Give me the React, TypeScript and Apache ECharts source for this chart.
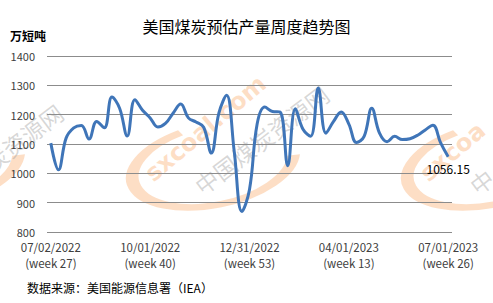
import React, { useEffect, useRef } from "react";
import * as echarts from "echarts";

const weekDates: string[] = [
  "07/02/2022", "07/09/2022", "07/16/2022", "07/23/2022", "07/30/2022", "08/06/2022", "08/13/2022",
  "08/20/2022", "08/27/2022", "09/03/2022", "09/10/2022", "09/17/2022", "09/24/2022", "10/01/2022",
  "10/08/2022", "10/15/2022", "10/22/2022", "10/29/2022", "11/05/2022", "11/12/2022", "11/19/2022",
  "11/26/2022", "12/03/2022", "12/10/2022", "12/17/2022", "12/24/2022", "12/31/2022", "01/07/2023",
  "01/14/2023", "01/21/2023", "01/28/2023", "02/04/2023", "02/11/2023", "02/18/2023", "02/25/2023",
  "03/04/2023", "03/11/2023", "03/18/2023", "03/25/2023", "04/01/2023", "04/08/2023", "04/15/2023",
  "04/22/2023", "04/29/2023", "05/06/2023", "05/13/2023", "05/20/2023", "05/27/2023", "06/03/2023",
  "06/10/2023", "06/17/2023", "06/24/2023", "07/01/2023",
];
const weekNumbers: number[] = [
  27, 28, 29, 30, 31, 32, 33, 34, 35, 36, 37, 38, 39, 40, 41, 42, 43, 44, 45, 46, 47, 48, 49, 50, 51, 52, 53,
  1, 2, 3, 4, 5, 6, 7, 8, 9, 10, 11, 12, 13, 14, 15, 16, 17, 18, 19, 20, 21, 22, 23, 24, 25, 26,
];
const production: number[] = [
  1103, 1012, 1120, 1155, 1163, 1117, 1177, 1155, 1260, 1222,
  1127, 1251, 1215, 1189, 1158, 1170, 1205, 1236, 1189, 1175,
  1157, 1069, 1206, 1266, 1075, 870, 945, 1168, 1226, 1211,
  1209, 1026, 1220, 1150, 1126, 1291, 1137, 1177, 1209, 1168,
  1105, 1126, 1222, 1138, 1108, 1126, 1115, 1118, 1130, 1148,
  1164, 1105, 1056.15,
];
const shownTickIndexes: number[] = [0, 13, 26, 39, 52];
const yTicks = { min: 800, max: 1400, interval: 100 };

const categories = weekDates.map((d, i) => `${d}\n(week ${weekNumbers[i]})`);

const orange = "rgba(252,190,140,0.5)";
const gray = "rgba(150,150,150,0.38)";

function watermark(cx: number, cy: number, brand: string | null, name: string | null, nameDx: number) {
  const children: any[] = [
    {
      type: "arc",
      shape: { cx: 0, cy: 0, r: 40, startAngle: Math.PI * 0.05, endAngle: Math.PI * 1.4 },
      scaleX: 2.05,
      style: { stroke: orange, lineWidth: 9, fill: "none", strokeNoScale: true },
    },
  ];
  if (brand) {
    children.push({
      type: "text",
      x: -60, y: 9, rotation: 0.5,
      style: { text: brand, fill: orange, font: "bold 24px 'DejaVu Sans', sans-serif", verticalAlign: "bottom" },
    });
  }
  if (name) {
    children.push({
      type: "text",
      x: -15 + nameDx, y: 30, rotation: 0.45,
      style: { text: name, fill: gray, font: "23px 'Noto Sans CJK SC'", verticalAlign: "bottom" },
    });
  }
  return { type: "group", x: cx, y: cy, rotation: 0.2, z: -1, silent: true, children };
}

export default function App() {
  const ref = useRef<HTMLDivElement>(null);
  useEffect(() => {
    if (!ref.current) return;
    const chart = echarts.init(ref.current, null, { renderer: "svg" });
    const font = "'Noto Sans CJK SC', 'Microsoft YaHei', sans-serif";
    const lastIdx = production.length - 1;
    chart.setOption({
      animation: false,
      backgroundColor: "#ffffff",
      textStyle: { fontFamily: font },
      title: {
        text: "美国煤炭预估产量周度趋势图",
        left: "center",
        top: 13,
        textStyle: { fontSize: 16, fontWeight: "normal", color: "#000000", fontFamily: font },
      },
      grid: { left: 47, right: 41, top: 56, bottom: 71, containLabel: false },
      xAxis: {
        type: "category",
        data: categories,
        boundaryGap: true,
        axisLine: { show: false },
        axisTick: { show: false },
        axisLabel: {
          interval: (idx: number) => shownTickIndexes.includes(idx),
          color: "#404040",
          fontSize: 11.5,
          lineHeight: 16,
          margin: 7,
          fontFamily: font,
        },
      },
      yAxis: {
        type: "value",
        min: yTicks.min,
        max: yTicks.max,
        interval: yTicks.interval,
        axisLine: { show: false },
        axisTick: { show: false },
        axisLabel: {
          color: "#404040",
          fontSize: 11,
          margin: 12,
          fontFamily: font,
          formatter: (v: number) => String(v),
        },
        splitLine: { lineStyle: { color: "#8c8c8c", width: 1 } },
      },
      graphic: [
        watermark(-62, 165, null, "煤炭资源网", 47),
        watermark(213, 165, "sxcoal.com", "中国煤炭资源网", 0),
        watermark(488, 165, "sxcoa", "中", 0),
        {
          type: "text", left: 10, top: 29,
          style: { text: "万短吨", fill: "#000000", font: `bold 12px ${font}` },
        },
        {
          type: "text", left: 27, top: 281,
          style: { text: "数据来源：美国能源信息署（IEA）", fill: "#000000", font: `12px ${font}` },
        },
      ],
      series: [
        {
          type: "line",
          data: production.map((v, i) =>
            i === lastIdx
              ? {
                  value: v,
                  label: {
                    show: true,
                    position: "bottom",
                    offset: [7, 4],
                    color: "#000000",
                    fontSize: 12,
                    fontFamily: font,
                    formatter: "{c}",
                  },
                }
              : v
          ),
          smooth: 0.4,
          showSymbol: true,
          symbol: "circle",
          symbolSize: 1,
          itemStyle: { color: "rgba(0,0,0,0)" },
          lineStyle: { color: "#3f75b8", width: 3 },
          labelLayout: { hideOverlap: false },
          z: 3,
        },
      ],
    });
    return () => chart.dispose();
  }, []);
  return (
    <div
      ref={ref}
      style={{ position: "absolute", left: 0, top: 0, width: 493, height: 303 }}
    />
  );
}
